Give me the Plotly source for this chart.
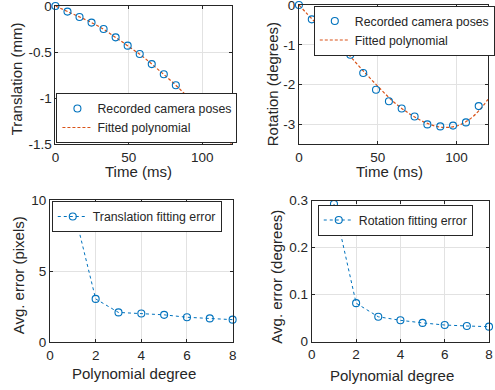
import plotly.graph_objects as go

# ---------------- data ----------------
time_ms = [0, 8.2, 16.4, 24.6, 32.8, 41.0, 49.2, 57.4, 65.6, 73.8, 82.0, 90.2, 98.4, 106.6, 114.8]
trans_rec = [0.0, -0.061, -0.12, -0.18, -0.25, -0.34, -0.43, -0.52, -0.63, -0.74, -0.86, -0.99, -1.12, -1.26, -1.42]
fit_time = [0, 10, 20, 30, 40, 50, 60, 70, 80, 90, 100, 110, 120]
trans_fit = [0.0, -0.073, -0.145, -0.225, -0.33, -0.44, -0.555, -0.69, -0.83, -0.985, -1.15, -1.32, -1.5]

rot_time = [0, 8.15, 16.3, 24.5, 32.6, 40.8, 48.9, 57.1, 65.2, 73.4, 81.5, 89.7, 97.8, 106.0, 114.1]
rot_rec = [0.0, -0.36, -0.64, -0.93, -1.25, -1.71, -2.13, -2.42, -2.60, -2.80, -3.00, -3.05, -3.03, -2.95, -2.54]
rot_fit = [0.0, -0.42, -0.79, -1.18, -1.62, -2.04, -2.43, -2.73, -2.95, -3.07, -3.04, -2.82, -2.37]

degree = [1, 2, 3, 4, 5, 6, 7, 8]
trans_err = [9.6, 3.05, 2.1, 2.02, 1.93, 1.76, 1.68, 1.59]
rot_err = [0.293, 0.082, 0.053, 0.0455, 0.040, 0.0355, 0.0334, 0.032]

# ---------------- style ----------------
W, H = 495, 390
BLUE = "#0072BD"
ORANGE = "#D95319"
DARK = "#262626"
GRID = "#e2e2e2"
FONT = "Liberation Sans, Arial, Helvetica, sans-serif"
TICK = 13.5
LAB = 15
LEG = 12.3


def dx(px):
    return px / W


def dy(py):
    return 1 - py / H


fig = go.Figure()

# top-left
fig.add_trace(go.Scatter(x=fit_time, y=trans_fit, mode="lines", name="Fitted polynomial",
                         line=dict(color=ORANGE, width=1.2, dash="3px,2px", shape="spline"),
                         xaxis="x", yaxis="y", legend="legend"))
fig.add_trace(go.Scatter(x=time_ms, y=trans_rec, mode="markers", name="Recorded camera poses",
                         marker=dict(symbol="circle-open", size=7, color=BLUE, line=dict(width=1.1)),
                         xaxis="x", yaxis="y", legend="legend", cliponaxis=False))
# top-right
fig.add_trace(go.Scatter(x=fit_time, y=rot_fit, mode="lines", name="Fitted polynomial",
                         line=dict(color=ORANGE, width=1.2, dash="3px,2px", shape="spline"),
                         xaxis="x2", yaxis="y2", legend="legend2"))
fig.add_trace(go.Scatter(x=rot_time, y=rot_rec, mode="markers", name="Recorded camera poses",
                         marker=dict(symbol="circle-open", size=7, color=BLUE, line=dict(width=1.1)),
                         xaxis="x2", yaxis="y2", legend="legend2", cliponaxis=False))
# bottom-left
fig.add_trace(go.Scatter(x=degree, y=trans_err, mode="lines+markers", name="Translation fitting error",
                         line=dict(color=BLUE, width=1, dash="3px,3px"),
                         marker=dict(symbol="circle-open", size=7, color=BLUE, line=dict(width=1.1)),
                         xaxis="x3", yaxis="y3", legend="legend3", cliponaxis=False))
# bottom-right
fig.add_trace(go.Scatter(x=degree, y=rot_err, mode="lines+markers", name="Rotation fitting error",
                         line=dict(color=BLUE, width=1, dash="3px,3px"),
                         marker=dict(symbol="circle-open", size=7, color=BLUE, line=dict(width=1.1)),
                         xaxis="x4", yaxis="y4", legend="legend4", cliponaxis=False))


def ax(domain, rng, tickvals, anchor, ticktext=None):
    d = dict(domain=domain, range=rng, tickvals=tickvals, anchor=anchor,
             showline=True, linecolor=DARK, linewidth=1, mirror="ticks",
             ticks="inside", ticklen=3, tickcolor=DARK, tickwidth=1,
             showgrid=True, gridcolor=GRID, gridwidth=1, zeroline=False,
             ticklabeloverflow="allow",
             tickfont=dict(family=FONT, size=TICK, color=DARK), automargin=False)
    if ticktext is not None:
        d["ticktext"] = ticktext
    return d


layout = dict(
    width=W, height=H, margin=dict(l=0, r=0, t=0, b=0),
    paper_bgcolor="white", plot_bgcolor="white", showlegend=True,
    font=dict(family=FONT, color=DARK),
    xaxis=ax([dx(56), dx(234)], [0, 120], [0, 50, 100], "y"),
    yaxis=ax([dy(144.3), dy(6)], [-1.5, 0], [-1.5, -1, -0.5, 0], "x",
             ["-1.5", "-1", "-0.5", "0"]),
    xaxis2=ax([dx(302), dx(493)], [0, 120], [0, 50, 100], "y2"),
    yaxis2=ax([dy(144.3), dy(5)], [-3.5, 0], [-3, -2, -1, 0], "x2",
              ["-3", "-2", "-1", "0"]),
    xaxis3=ax([dx(50.5), dx(235)], [0, 8], [0, 2, 4, 6, 8], "y3"),
    yaxis3=ax([dy(342.3), dy(200)], [0, 10], [0, 5, 10], "x3"),
    xaxis4=ax([dx(315), dx(494)], [0, 8], [0, 2, 4, 6, 8], "y4"),
    yaxis4=ax([dy(341.7), dy(200.7)], [0, 0.3], [0, 0.1, 0.2, 0.3], "x4"),
)


def leg(x, y, yanchor="top", order="reversed"):
    return dict(x=dx(x), y=dy(y), xanchor="left", yanchor=yanchor,
                bgcolor="white", bordercolor=DARK, borderwidth=1,
                font=dict(family=FONT, size=LEG, color=DARK),
                itemwidth=30, traceorder=order, tracegroupgap=0)


layout["legend"] = leg(57, 143, "bottom")
layout["legend2"] = leg(317, 5.5)
layout["legend3"] = leg(52.3, 201, "top", "normal")
layout["legend4"] = leg(321, 204.5, "top", "normal")

fig.update_layout(**layout)

labels = [
    ("Time (ms)", 140, 171, 0),
    ("Time (ms)", 393, 171, 0),
    ("Polynomial degree", 135, 373, 0),
    ("Polynomial degree", 396, 375, 0),
    ("Translation (mm)", 17.5, 79, -90),
    ("Rotation (degrees)", 275, 84, -90),
    ("Avg. error (pixels)", 18.5, 275, -90),
    ("Avg. error (degrees)", 278.5, 277, -90),
]
for text, x, y, ang in labels:
    fig.add_annotation(text=text, x=dx(x), y=dy(y), xref="paper", yref="paper",
                       showarrow=False, textangle=ang, xanchor="center", yanchor="middle",
                       font=dict(family=FONT, size=LAB, color=DARK))

fig.write_html("out.html", config={"displayModeBar": False, "staticPlot": True},
               post_script="document.body.style.margin='0';document.body.style.overflow='hidden';")
